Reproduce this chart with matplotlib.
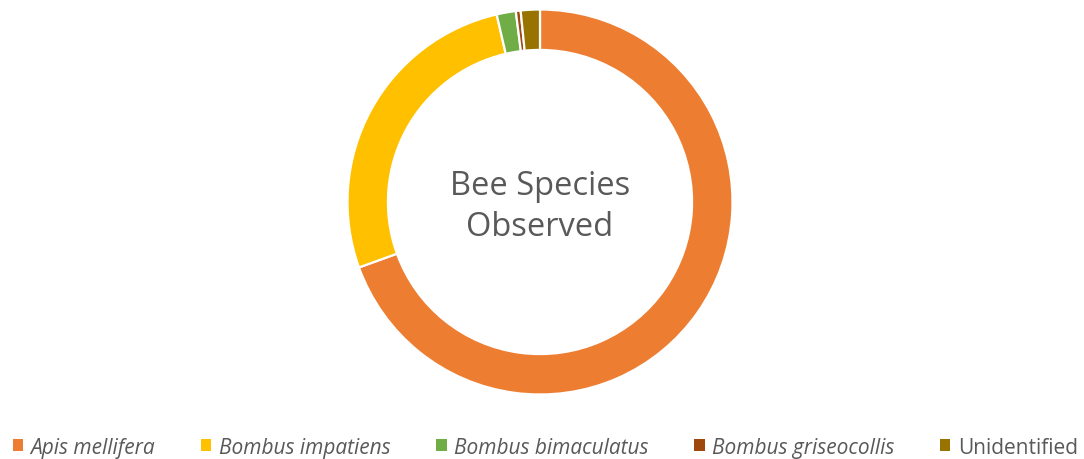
import matplotlib
matplotlib.use("Agg")
import matplotlib.pyplot as plt
from matplotlib.patches import Patch

species = ["Apis mellifera", "Bombus impatiens", "Bombus bimaculatus",
           "Bombus griseocollis", "Unidentified"]
counts = [173, 67, 4, 1, 4]
colors = ["#ED7D31", "#FFC000", "#70AD47", "#9E480E", "#997300"]
italic = [True, True, True, True, False]

plt.rcParams['font.family'] = ['Open Sans', 'DejaVu Sans']

fig = plt.figure(figsize=(10.84, 4.6), dpi=100)
ax = fig.add_axes([347.5 / 1084, 64.5 / 460, 385 / 1084, 385 / 460])
ax.pie(counts, colors=colors, startangle=90, counterclock=False, radius=1,
       wedgeprops=dict(width=0.21, edgecolor="white", linewidth=1.6))
ax.set_xlim(-1, 1)
ax.set_ylim(-1, 1)
ax.set_aspect("equal")
ax.axis("off")

ax.text(0, -0.02, "Bee Species\nObserved", ha="center", va="center",
        fontsize=23.5, color="#595959", linespacing=1.3)

handles = [Patch(facecolor=c, edgecolor="none") for c in colors]
leg = fig.legend(handles, species, loc="lower center", bbox_to_anchor=(0.503, -0.038),
                 ncol=5, frameon=False, fontsize=15, handlelength=0.5,
                 handleheight=0.5, handletextpad=0.35, columnspacing=2.2)
for t, it in zip(leg.get_texts(), italic):
    t.set_color("#595959")
    if it:
        t.set_style("italic")

fig.savefig("out.png", dpi=100)
